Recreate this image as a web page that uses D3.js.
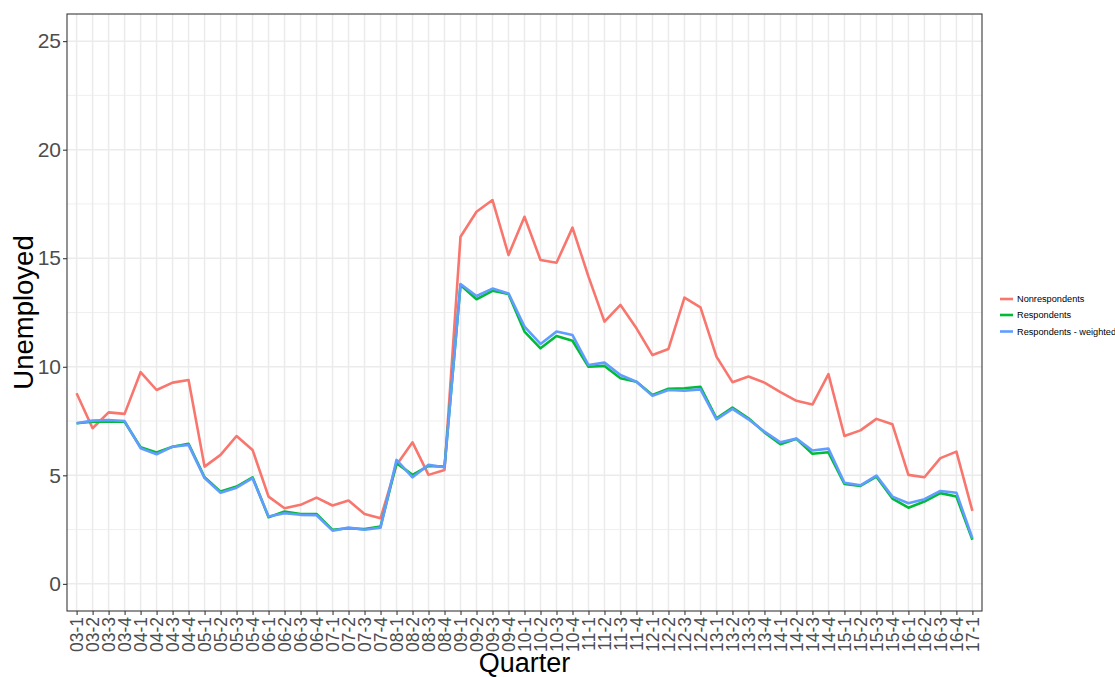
<!DOCTYPE html>
<html>
<head>
<meta charset="utf-8">
<script src="https://cdn.jsdelivr.net/npm/d3@7"></script>
<style>
  html, body { margin: 0; padding: 0; background: #fff; }
  svg { display: block; font-family: "Liberation Sans", Arial, sans-serif; }
</style>
</head>
<body>
<svg id="chart" width="1115" height="677"></svg>
<script>
const categories = ["03-1","03-2","03-3","03-4","04-1","04-2","04-3","04-4","05-1","05-2","05-3","05-4",
  "06-1","06-2","06-3","06-4","07-1","07-2","07-3","07-4","08-1","08-2","08-3","08-4",
  "09-1","09-2","09-3","09-4","10-1","10-2","10-3","10-4","11-1","11-2","11-3","11-4",
  "12-1","12-2","12-3","12-4","13-1","13-2","13-3","13-4","14-1","14-2","14-3","14-4",
  "15-1","15-2","15-3","15-4","16-1","16-2","16-3","16-4","17-1"];

const nonrespondents = [8.78,7.17,7.90,7.83,9.75,8.93,9.27,9.39,5.40,5.94,6.81,6.17,
  4.02,3.48,3.64,3.97,3.61,3.84,3.22,3.02,5.48,6.52,5.02,5.25,
  15.99,17.14,17.68,15.15,16.91,14.92,14.79,16.41,14.15,12.08,12.85,11.77,
  10.54,10.82,13.19,12.74,10.47,9.29,9.55,9.27,8.83,8.43,8.26,9.66,
  6.81,7.07,7.60,7.35,5.02,4.91,5.79,6.09,3.36];

const respondents = [7.40,7.47,7.47,7.47,6.29,6.05,6.32,6.45,4.91,4.25,4.48,4.91,
  3.07,3.33,3.22,3.22,2.49,2.56,2.52,2.64,5.56,5.02,5.43,5.40,
  13.77,13.11,13.50,13.35,11.62,10.85,11.42,11.20,10.00,10.04,9.47,9.31,
  8.70,8.99,9.01,9.08,7.63,8.12,7.63,6.98,6.43,6.68,5.99,6.06,
  4.60,4.51,4.94,3.93,3.51,3.79,4.18,4.02,2.03];

const respondentsWeighted = [7.40,7.52,7.55,7.50,6.25,5.97,6.32,6.40,4.87,4.20,4.43,4.87,
  3.10,3.25,3.18,3.16,2.45,2.59,2.49,2.59,5.71,4.91,5.48,5.37,
  13.81,13.26,13.60,13.38,11.85,11.05,11.62,11.46,10.08,10.19,9.62,9.31,
  8.66,8.93,8.90,8.96,7.58,8.06,7.58,7.01,6.52,6.69,6.14,6.23,
  4.66,4.54,4.99,4.02,3.71,3.90,4.28,4.20,2.10];

const seriesNames = ["Nonrespondents","Respondents","Respondents - weighted"];
const seriesColors = ["#F8766D","#00BA38","#619CFF"];
const yTicks = [0,5,10,15,20,25];
const yMinorTicks = [2.5,7.5,12.5,17.5,22.5];

const seriesValues = [nonrespondents, respondents, respondentsWeighted];

const svg = d3.select("#chart");
const panel = {left: 67, right: 982, top: 14, bottom: 611};

const x = d3.scalePoint().domain(categories).range([panel.left, panel.right]).padding(0.6);
const y = d3.scaleLinear().domain([-1.25, 26.25]).range([panel.bottom, panel.top]);

svg.append("rect").attr("x", panel.left).attr("y", panel.top)
  .attr("width", panel.right - panel.left).attr("height", panel.bottom - panel.top)
  .attr("fill", "#fff");

const grid = svg.append("g");
grid.selectAll("line.ymin").data(yMinorTicks).join("line")
  .attr("x1", panel.left).attr("x2", panel.right)
  .attr("y1", d => y(d)).attr("y2", d => y(d))
  .attr("stroke", "#EBEBEB").attr("stroke-width", 0.8);
grid.selectAll("line.ymaj").data(yTicks).join("line")
  .attr("x1", panel.left).attr("x2", panel.right)
  .attr("y1", d => y(d)).attr("y2", d => y(d))
  .attr("stroke", "#EBEBEB").attr("stroke-width", 1.5);
grid.selectAll("line.xmaj").data(categories).join("line")
  .attr("x1", d => x(d)).attr("x2", d => x(d))
  .attr("y1", panel.top).attr("y2", panel.bottom)
  .attr("stroke", "#EBEBEB").attr("stroke-width", 1.5);

const line = d3.line().x((d, i) => x(categories[i])).y(d => y(d));
seriesValues.forEach((vals, k) => {
  svg.append("path").datum(vals)
    .attr("d", line)
    .attr("fill", "none")
    .attr("stroke", seriesColors[k])
    .attr("stroke-width", 2.6)
    .attr("stroke-linejoin", "round");
});

svg.append("rect").attr("x", panel.left).attr("y", panel.top)
  .attr("width", panel.right - panel.left).attr("height", panel.bottom - panel.top)
  .attr("fill", "none").attr("stroke", "#333333").attr("stroke-width", 1.07);

const yAxis = d3.axisLeft(y).tickValues(yTicks).tickSize(4).tickPadding(2);
const gy = svg.append("g").attr("transform", `translate(${panel.left},0)`).call(yAxis);
gy.select(".domain").remove();
gy.selectAll(".tick line").attr("stroke", "#333333").attr("stroke-width", 1.07);
gy.selectAll(".tick text").attr("fill", "#4D4D4D").style("font-size", "21px")
  .style("font-family", "'Liberation Sans', Arial, sans-serif");

const xAxis = d3.axisBottom(x).tickSize(4).tickPadding(3);
const gx = svg.append("g").attr("transform", `translate(0,${panel.bottom})`).call(xAxis);
gx.select(".domain").remove();
gx.selectAll(".tick line").attr("stroke", "#333333").attr("stroke-width", 1.07);
gx.selectAll(".tick text")
  .attr("fill", "#4D4D4D").style("font-size", "17.5px")
  .style("font-family", "'Liberation Sans', Arial, sans-serif")
  .attr("transform", "rotate(-90)")
  .attr("text-anchor", "end")
  .attr("x", -6).attr("y", 0).attr("dy", "0.36em");

svg.append("text").attr("x", (panel.left + panel.right) / 2).attr("y", 672)
  .attr("text-anchor", "middle").attr("fill", "#000").style("font-size", "27px")
  .text("Quarter");
svg.append("text")
  .attr("transform", `translate(33,${(panel.top + panel.bottom) / 2}) rotate(-90)`)
  .attr("text-anchor", "middle").attr("fill", "#000").style("font-size", "27.5px")
  .text("Unemployed");

const legY = [299, 315, 331.5];
const leg = svg.append("g");
seriesNames.forEach((name, k) => {
  leg.append("line").attr("x1", 1000).attr("x2", 1013)
    .attr("y1", legY[k]).attr("y2", legY[k])
    .attr("stroke", seriesColors[k]).attr("stroke-width", 2.6);
  leg.append("text").attr("x", 1017).attr("y", legY[k]).attr("dy", "0.35em")
    .attr("fill", "#000").style("font-size", "9.2px").text(name);
});
</script>
</body>
</html>
